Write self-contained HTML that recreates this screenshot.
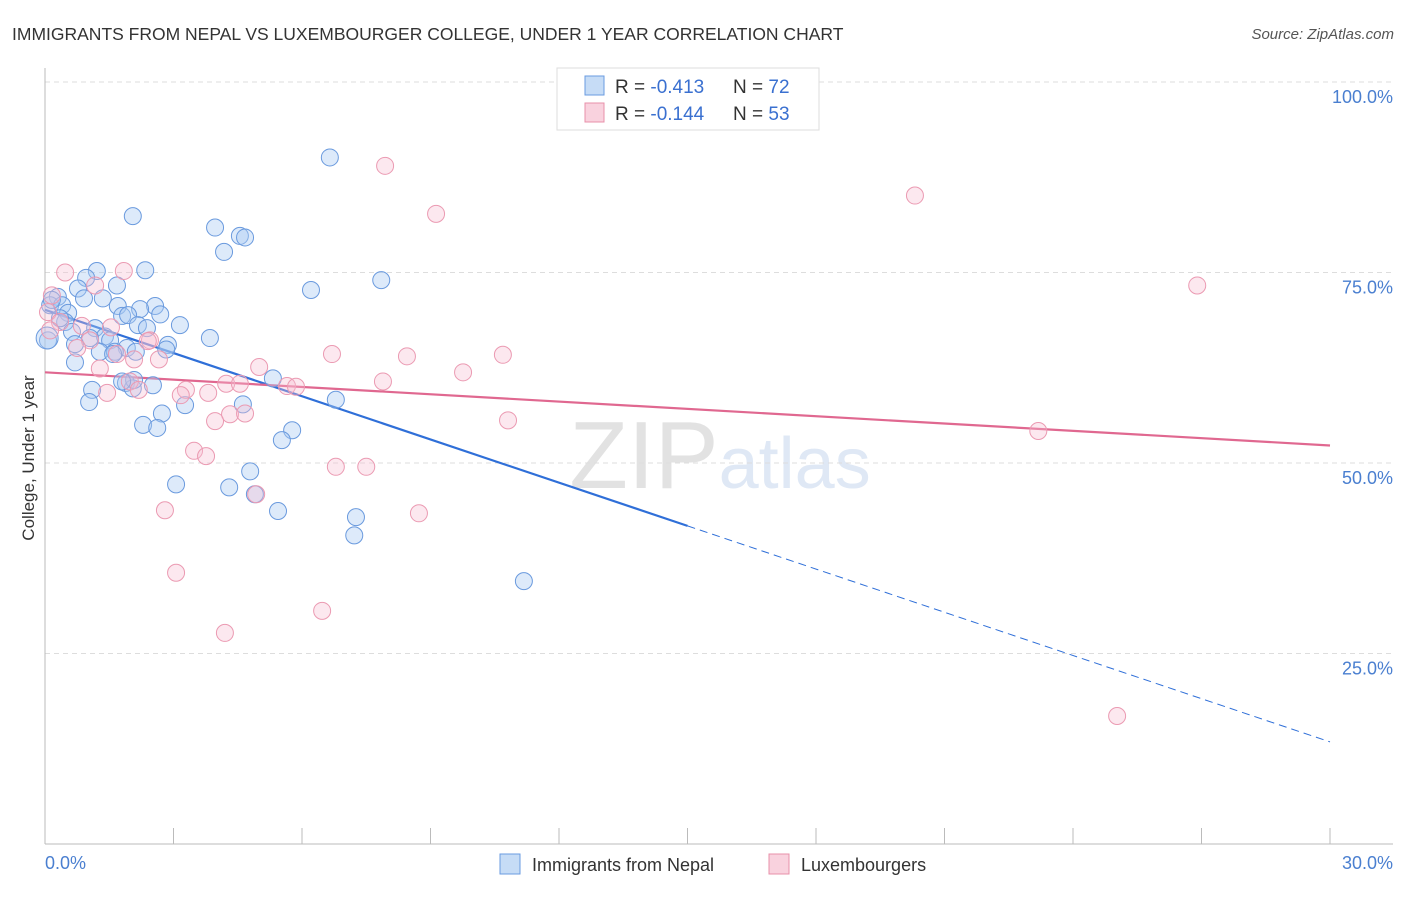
<!DOCTYPE html>
<html><head><meta charset="utf-8"><style>
body{margin:0;background:#fff;font-family:"Liberation Sans",sans-serif}
svg text{font-family:"Liberation Sans",sans-serif}
</style></head><body>
<svg id="chart" width="1406" height="892">
<text x="12" y="40" font-size="17.5" fill="#333">IMMIGRANTS FROM NEPAL VS LUXEMBOURGER COLLEGE, UNDER 1 YEAR CORRELATION CHART</text>
<text x="1394" y="39" font-size="15" fill="#555" text-anchor="end" font-style="italic">Source: ZipAtlas.com</text>
<text x="720" y="488" font-size="96" fill="#e4e4e4" text-anchor="middle" font-family="Liberation Serif"><tspan fill="#e2e2e2">ZIP</tspan><tspan fill="#dfe8f5" font-family="Liberation Sans" font-size="72">atlas</tspan></text>
<g id="grid"></g><g id="axes"></g><g id="trend"></g><g id="pts"></g>
<text transform="translate(34,458) rotate(-90)" font-size="17" fill="#333" text-anchor="middle">College, Under 1 year</text>
<text x="45" y="869" font-size="18" fill="#4a7fd0">0.0%</text>
<text x="1393" y="869" font-size="18" fill="#4a7fd0" text-anchor="end">30.0%</text>
<g>
<rect x="557" y="68" width="262" height="62" fill="#fff" stroke="#ddd"/>
<rect x="585" y="76" width="19" height="19" fill="rgba(160,196,240,0.6)" stroke="#6a9be0"/>
<rect x="585" y="103" width="19" height="19" fill="rgba(245,180,200,0.6)" stroke="#e890aa"/>
<text x="615" y="93" font-size="19" fill="#333">R = <tspan fill="#3a70d0">-0.413</tspan></text>
<text x="733" y="93" font-size="19" fill="#333">N = <tspan fill="#3a70d0">72</tspan></text>
<text x="615" y="120" font-size="19" fill="#333">R = <tspan fill="#3a70d0">-0.144</tspan></text>
<text x="733" y="120" font-size="19" fill="#333">N = <tspan fill="#3a70d0">53</tspan></text>
</g>
<g>
<rect x="500" y="854" width="20" height="20" fill="rgba(160,196,240,0.6)" stroke="#6a9be0"/>
<text x="532" y="871" font-size="18" fill="#333">Immigrants from Nepal</text>
<rect x="769" y="854" width="20" height="20" fill="rgba(245,180,200,0.6)" stroke="#e890aa"/>
<text x="801" y="871" font-size="18" fill="#333">Luxembourgers</text>
</g>
</svg>
<script>
const yTicks=[100,75,50,25];
const yTickLabels=["100.0%","75.0%","50.0%","25.0%"];
const xTicks=[0,3,6,9,12,15,18,21,24,27,30];
const nepalX=[6.65,2.05,3.97,4.55,4.67,4.18,1.21,2.34,7.85,6.21,0.96,0.77,1.68,0.30,0.91,1.35,0.12,0.40,1.70,2.57,2.22,0.54,2.69,1.80,1.94,0.47,2.17,3.15,2.38,1.17,0.63,1.40,1.52,1.05,3.85,0.07,2.87,0.70,1.91,1.28,1.63,0.70,5.32,1.89,2.52,2.05,1.10,6.79,1.03,3.27,2.73,4.62,2.29,2.62,5.77,5.53,3.06,4.30,4.79,4.90,5.44,7.26,7.22,11.18,0.05,0.16,0.35,1.59,2.08,1.80,2.83,2.12];
const nepalY=[90.1,82.4,80.9,79.8,79.6,77.7,75.2,75.3,74.0,72.7,74.3,72.9,73.3,71.8,71.6,71.6,70.7,70.7,70.6,70.6,70.2,69.7,69.5,69.3,69.4,68.5,68.1,68.1,67.7,67.7,67.2,66.6,66.1,66.4,66.4,66.1,65.5,65.6,65.1,64.6,64.6,63.2,61.1,60.5,60.2,59.8,59.6,58.3,58.0,57.6,56.5,57.7,55.0,54.6,54.3,53.0,47.2,46.8,48.9,45.9,43.7,42.9,40.5,34.5,66.4,71.4,69.0,64.3,60.9,60.7,64.9,64.6];
const luxX=[7.94,9.13,20.31,26.9,0.47,1.84,1.17,0.16,0.07,0.35,0.86,1.54,1.05,2.45,0.75,6.70,8.45,10.69,1.68,2.66,2.08,5.00,9.76,1.28,7.89,4.23,4.55,5.65,5.86,1.98,3.29,2.19,3.17,3.81,1.45,4.32,4.67,3.97,10.81,23.19,3.48,3.76,6.79,7.50,4.93,2.80,8.73,3.06,6.47,4.20,25.03,0.12,2.40];
const luxY=[89.0,82.7,85.1,73.3,75.0,75.2,73.3,72.0,69.8,68.5,68.0,67.8,66.1,66.1,65.1,64.3,64.0,64.2,64.3,63.6,63.6,62.6,61.9,62.4,60.7,60.4,60.4,60.1,60.0,60.7,59.6,59.6,58.9,59.2,59.2,56.4,56.5,55.5,55.6,54.2,51.6,50.9,49.5,49.5,45.9,43.8,43.4,35.6,30.6,27.7,16.8,67.4,66.0];
const nepalTrend=[70.1,13.4], nepalSolidEnd=15.0;
const luxTrend=[61.9,52.3];
const NS="http://www.w3.org/2000/svg";
const sx=v=>45+v/30*1285, sy=v=>844-v*7.62;
function mk(t,a,p){const e=document.createElementNS(NS,t);for(const k in a)e.setAttribute(k,a[k]);document.getElementById(p).appendChild(e);return e;}
yTicks.forEach((t,i)=>{
 const l=mk('line',{x1:45,x2:1393,y1:sy(t),y2:sy(t),stroke:'#ddd','stroke-dasharray':'5,4'},'grid');
 
 
 const tx=mk('text',{x:1393,y:sy(t)+21,'font-size':18,fill:'#4a7fd0','text-anchor':'end'},'grid');
 tx.textContent=yTickLabels[i];
 
 
});
const ax=mk('line',{x1:45,x2:45,y1:68,y2:844,stroke:'#bbb'},'axes');


const bx=mk('line',{x1:45,x2:1393,y1:844,y2:844,stroke:'#bbb'},'axes');


xTicks.forEach(t=>{
 const l=mk('line',{x1:sx(t),x2:sx(t),y1:828,y2:844,stroke:'#bbb'},'axes');
 
 
});
const ln=(v0,v1,x)=>v0+(v1-v0)*x/30;
let t1=mk('line',{x1:sx(0),y1:sy(nepalTrend[0]),x2:sx(nepalSolidEnd),y2:sy(ln(nepalTrend[0],nepalTrend[1],nepalSolidEnd)),stroke:'#2f6fd8','stroke-width':2.2},'trend');


let t2=mk('line',{x1:sx(nepalSolidEnd),y1:sy(ln(nepalTrend[0],nepalTrend[1],nepalSolidEnd)),x2:sx(30),y2:sy(nepalTrend[1]),stroke:'#2f6fd8','stroke-width':1,'stroke-dasharray':'8,5'},'trend');


let t3=mk('line',{x1:sx(0),y1:sy(luxTrend[0]),x2:sx(30),y2:sy(luxTrend[1]),stroke:'#e06890','stroke-width':2.2},'trend');


nepalX.forEach((x,i)=>{
 const c=mk('circle',{cx:sx(x),cy:sy(nepalY[i]),r:i==64?11:8.5,fill:'rgba(170,202,242,0.4)',stroke:'#6a9ade','stroke-width':1},'pts');
 
 
});
luxX.forEach((x,i)=>{
 const c=mk('circle',{cx:sx(x),cy:sy(luxY[i]),r:8.5,fill:'rgba(247,190,208,0.35)',stroke:'#eb9ab2','stroke-width':1},'pts');
 
 
});
</script>
</body></html>
